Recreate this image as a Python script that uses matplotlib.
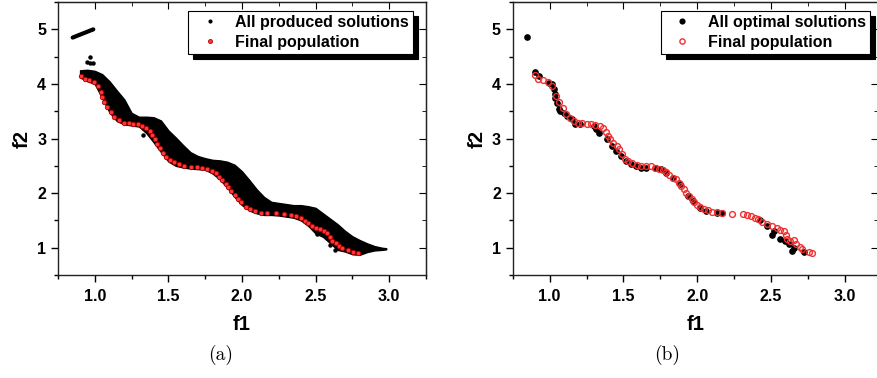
import numpy as np
import matplotlib
matplotlib.use("Agg")
import matplotlib.pyplot as plt
from matplotlib.ticker import MultipleLocator

plt.rcParams['font.family'] = ['Liberation Sans', 'DejaVu Sans']
plt.rcParams['font.weight'] = 'bold'

# ---- (a) all produced solutions: dense cloud, read as upper / lower edges
band_f1 = [0.90, 0.95, 1.00, 1.05, 1.10, 1.15, 1.20, 1.25, 1.30, 1.35, 1.40, 1.45,
           1.50, 1.55, 1.60, 1.65, 1.70, 1.75, 1.80, 1.85, 1.90, 1.95, 2.00, 2.05,
           2.10, 2.15, 2.20, 2.25, 2.30, 2.35, 2.40, 2.45, 2.50, 2.55, 2.60, 2.65,
           2.70, 2.75, 2.80, 2.85, 2.90, 2.95, 2.98]
band_upper = [4.25, 4.26, 4.24, 4.18, 4.05, 3.88, 3.72, 3.47, 3.40, 3.40, 3.39, 3.33,
              3.15, 3.02, 2.88, 2.75, 2.68, 2.64, 2.61, 2.60, 2.575, 2.52, 2.40, 2.24,
              2.07, 1.93, 1.84, 1.82, 1.80, 1.78, 1.78, 1.76, 1.73, 1.63, 1.53, 1.43,
              1.31, 1.21, 1.14, 1.08, 1.03, 1.00, 0.99]
band_lower = [4.12, 4.05, 4.00, 3.74, 3.48, 3.32, 3.26, 3.24, 3.22, 3.10, 2.93, 2.75,
              2.58, 2.50, 2.47, 2.45, 2.44, 2.43, 2.36, 2.25, 2.10, 1.93, 1.78, 1.68,
              1.63, 1.60, 1.60, 1.59, 1.57, 1.55, 1.50, 1.40, 1.26, 1.20, 1.08, 0.96,
              0.93, 0.88, 0.87, 0.92, 0.95, 0.96, 0.97]
# isolated produced solutions
streak_f1 = [0.85, 0.99]
streak_f2 = [4.85, 5.00]
stray_f1 = [0.97, 0.95, 0.97, 0.99, 1.33, 2.51, 2.63, 2.60]
stray_f2 = [4.50, 4.40, 4.38, 4.39, 3.06, 1.26, 0.96, 1.05]

# (a) final population
popA_f1 = [0.909, 0.932, 0.959, 0.993, 1.023, 1.039, 1.050, 1.066, 1.084, 1.107, 1.134,
           1.163, 1.197, 1.231, 1.261, 1.293, 1.322, 1.349, 1.372, 1.390, 1.406, 1.424,
           1.442, 1.463, 1.485, 1.510, 1.537, 1.571, 1.605, 1.651, 1.696, 1.730, 1.764,
           1.798, 1.821, 1.844, 1.866, 1.889, 1.907, 1.927, 1.950, 1.973, 1.995, 2.025,
           2.054, 2.086, 2.127, 2.172, 2.229, 2.286, 2.331, 2.365, 2.399, 2.429, 2.451,
           2.478, 2.501, 2.531, 2.558, 2.580, 2.599, 2.615, 2.637, 2.660, 2.683, 2.717,
           2.751, 2.785]
popA_f2 = [4.144, 4.083, 4.071, 4.040, 3.967, 3.857, 3.766, 3.674, 3.570, 3.491, 3.387,
           3.338, 3.289, 3.277, 3.264, 3.264, 3.228, 3.198, 3.137, 3.064, 2.984, 2.899,
           2.819, 2.740, 2.667, 2.606, 2.563, 2.526, 2.502, 2.484, 2.471, 2.465, 2.441,
           2.410, 2.361, 2.300, 2.239, 2.166, 2.105, 2.038, 1.965, 1.891, 1.830, 1.751,
           1.708, 1.672, 1.641, 1.629, 1.629, 1.611, 1.598, 1.580, 1.537, 1.495, 1.446,
           1.403, 1.366, 1.336, 1.305, 1.263, 1.189, 1.128, 1.079, 1.031, 1.000, 0.957,
           0.927, 0.896]

# ---- (b) all optimal solutions
optB_f1 = [0.845, 0.902, 0.925, 0.993, 1.016, 1.027, 1.034, 1.039, 1.050, 1.061, 1.073,
           1.095, 1.118, 1.152, 1.175, 1.209, 1.300, 1.311, 1.334, 1.391, 1.425, 1.448,
           1.482, 1.516, 1.550, 1.584, 1.618, 1.652, 1.720, 1.755, 1.789, 1.834, 1.880,
           1.936, 1.970, 2.016, 2.061, 2.130, 2.164, 2.425, 2.470, 2.505, 2.516, 2.561,
           2.595, 2.618, 2.641, 2.652, 2.720]
optB_f2 = [4.858, 4.223, 4.144, 4.022, 3.990, 3.900, 3.808, 3.747, 3.655, 3.534, 3.503,
           3.473, 3.411, 3.350, 3.271, 3.259, 3.228, 3.167, 3.094, 2.984, 2.862, 2.770,
           2.679, 2.587, 2.526, 2.496, 2.465, 2.465, 2.465, 2.435, 2.374, 2.282, 2.160,
           1.946, 1.855, 1.733, 1.672, 1.641, 1.641, 1.507, 1.397, 1.226, 1.305, 1.165,
           1.122, 1.061, 0.939, 1.000, 0.921]

# (b) final population
popB_f1 = [0.902, 0.920, 0.955, 0.986, 1.016, 1.045, 1.061, 1.091, 1.114, 1.136, 1.164,
           1.193, 1.220, 1.250, 1.277, 1.307, 1.339, 1.364, 1.380, 1.395, 1.409, 1.432,
           1.455, 1.473, 1.489, 1.511, 1.534, 1.561, 1.591, 1.620, 1.652, 1.684, 1.716,
           1.743, 1.766, 1.789, 1.811, 1.834, 1.857, 1.875, 1.891, 1.907, 1.925, 1.943,
           1.961, 1.977, 1.998, 2.020, 2.045, 2.073, 2.102, 2.134, 2.164, 2.234, 2.307,
           2.334, 2.361, 2.391, 2.414, 2.436, 2.470, 2.505, 2.539, 2.561, 2.584, 2.600,
           2.607, 2.630, 2.657, 2.670, 2.693, 2.709, 2.755, 2.777]
popB_f2 = [4.156, 4.083, 4.065, 4.040, 3.961, 3.778, 3.668, 3.564, 3.454, 3.381, 3.320,
           3.289, 3.277, 3.271, 3.265, 3.253, 3.228, 3.186, 3.118, 3.045, 2.984, 2.911,
           2.862, 2.801, 2.722, 2.630, 2.587, 2.557, 2.520, 2.496, 2.496, 2.496, 2.459,
           2.447, 2.422, 2.386, 2.331, 2.282, 2.252, 2.190, 2.129, 2.081, 2.007, 1.946,
           1.885, 1.836, 1.788, 1.751, 1.714, 1.690, 1.653, 1.653, 1.641, 1.623, 1.623,
           1.598, 1.580, 1.549, 1.519, 1.470, 1.427, 1.397, 1.360, 1.324, 1.305, 1.226,
           1.165, 1.122, 1.140, 1.061, 1.012, 0.969, 0.927, 0.896]


def style_axes(ax, xmax):
    ax.set_xlim(0.75, xmax)
    ax.set_ylim(0.5, 5.5)
    ax.xaxis.set_major_locator(MultipleLocator(0.5))
    ax.xaxis.set_minor_locator(MultipleLocator(0.25))
    ax.yaxis.set_major_locator(MultipleLocator(1))
    ax.yaxis.set_minor_locator(MultipleLocator(0.5))
    ax.xaxis.set_major_formatter(matplotlib.ticker.FormatStrFormatter('%.1f'))
    ax.tick_params(which='major', direction='out', length=5, width=1, labelsize=11.5)
    ax.tick_params(which='minor', direction='out', length=3, width=1)
    ax.tick_params(axis='x', pad=5)
    for lab in ax.get_xticklabels() + ax.get_yticklabels():
        lab.set_fontweight('bold')
    for s in ax.spines.values():
        s.set_linewidth(1)
        s.set_color('#222222')
    top = ax.secondary_xaxis('top')
    top.xaxis.set_major_locator(MultipleLocator(0.5))
    top.xaxis.set_minor_locator(MultipleLocator(0.25))
    top.tick_params(which='major', direction='in', length=5, labeltop=False)
    top.tick_params(which='minor', direction='in', length=3)
    right = ax.secondary_yaxis('right')
    right.yaxis.set_major_locator(MultipleLocator(1))
    right.yaxis.set_minor_locator(MultipleLocator(0.5))
    right.tick_params(which='major', direction='in', length=5, labelright=False)
    right.tick_params(which='minor', direction='in', length=3)
    ax.set_xlabel('f1', fontsize=14.5, fontweight='bold', labelpad=8)
    ax.set_ylabel('f2', fontsize=14.5, fontweight='bold', labelpad=4)


def add_legend(ax, anchor):
    leg = ax.legend(loc='upper right', bbox_to_anchor=anchor, fontsize=11.5,
                    fancybox=False, edgecolor='black', framealpha=1,
                    shadow={'color': 'black', 'alpha': 1, 'ox': 3.5, 'oy': -3.5},
                    borderpad=0.25, labelspacing=0.3, handletextpad=0.5,
                    handlelength=2.2, borderaxespad=0, markerscale=0.9)
    leg.get_frame().set_linewidth(0.8)
    for t in leg.get_texts():
        t.set_fontweight('bold')
    return leg


fig = plt.figure(figsize=(8.77, 3.78), dpi=100)
axA = fig.add_axes([0.0661, 0.2725, 0.4196, 0.722])
axB = fig.add_axes([0.5846, 0.2725, 0.4160, 0.722])

# (a)
axA.fill_between(band_f1, band_lower, band_upper, color='black', lw=1.0, zorder=2)
axA.plot(streak_f1, streak_f2, color='black', lw=3, solid_capstyle='round', zorder=2)
axA.plot(stray_f1, stray_f2, 'o', color='black', ms=2.2, zorder=2,
         label='All produced solutions')
axA.plot(popA_f1, popA_f2, 'o', ms=3.2, mfc='#ff3a3a', mec='#b00000', mew=0.6,
         zorder=3, label='Final population')
style_axes(axA, 3.25)
add_legend(axA, (0.965, 0.967))

# (b)
axB.plot(optB_f1, optB_f2, 'o', color='black', ms=3.8, zorder=2,
         label='All optimal solutions')
axB.plot(popB_f1, popB_f2, 'o', ms=4.2, mfc='none', mec='#f03030', mew=1.0,
         zorder=3, label='Final population')
style_axes(axB, 3.22)
add_legend(axB, (0.979, 0.967))

fig.text(0.251, 0.06, '(a)', ha='center', va='center', fontsize=14,
         family='cmr10', fontweight='normal')
fig.text(0.761, 0.06, '(b)', ha='center', va='center', fontsize=14,
         family='cmr10', fontweight='normal')

fig.savefig('out.png', dpi=100)
